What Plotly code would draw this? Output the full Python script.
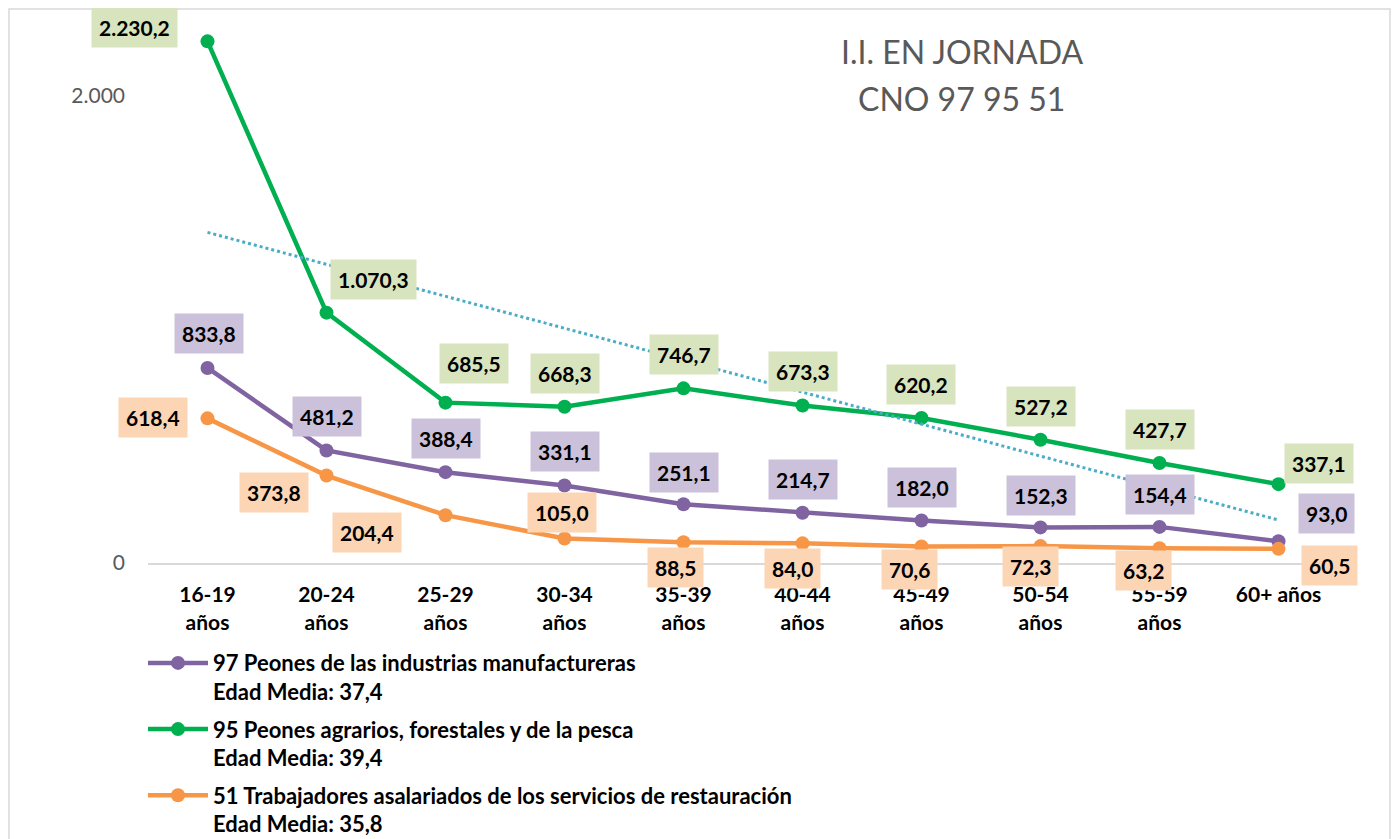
import numpy as np
import plotly.graph_objects as go

categories = ["16-19 años", "20-24 años", "25-29 años", "30-34 años", "35-39 años",
              "40-44 años", "45-49 años", "50-54 años", "55-59 años", "60+ años"]
tick_labels = ["16-19<br>años", "20-24<br>años", "25-29<br>años", "30-34<br>años", "35-39<br>años",
               "40-44<br>años", "45-49<br>años", "50-54<br>años", "55-59<br>años", "60+ años"]
peones_ind = [833.8, 481.2, 388.4, 331.1, 251.1, 214.7, 182.0, 152.3, 154.4, 93.0]
peones_agr = [2230.2, 1070.3, 685.5, 668.3, 746.7, 673.3, 620.2, 527.2, 427.7, 337.1]
restaur = [618.4, 373.8, 204.4, 105.0, 88.5, 84.0, 70.6, 72.3, 63.2, 60.5]

names = ["97 Peones de las industrias manufactureras<br>Edad Media: 37,4",
         "95 Peones agrarios, forestales y de la pesca<br>Edad Media: 39,4",
         "51 Trabajadores asalariados de los servicios de restauración<br>Edad Media: 35,8"]

# label offsets (pixels) for data labels
off_ind = [(1, 34), (0, 34), (0, 34), (0, 34), (0, 32), (0, 33), (0, 33), (0, 32), (0, 32), (48, 28)]
off_agr = [(-73, 14), (47, 33), (28, 39), (0, 33), (0, 34), (0, 34), (-1, 33), (0, 33), (0, 33), (40, 21)]
off_res = [(-55, 1), (-53, -17), (-79, -17), (-3, 26), (-8, -25), (-10, -25), (-12, -23), (-10, -20), (-16, -22), (51, -17)]

col_ind, col_agr, col_res = "#8064A2", "#00B050", "#F79646"
bg_ind, bg_agr, bg_res = "#CCC1DA", "#D7E4BD", "#FCD5B5"
FONT = "Lato, Open Sans, sans-serif"

fig = go.Figure()
for vals, nm, col, grp in [(peones_ind, names[0], col_ind, "a"),
                           (peones_agr, names[1], col_agr, "b"),
                           (restaur, names[2], col_res, "c")]:
    fig.add_trace(go.Scatter(x=categories, y=vals, name=nm, mode="lines+markers",
                             line=dict(color=col, width=4.5), marker=dict(size=14, color=col),
                             legendgroup=grp))

# linear trendline of the agrarian series
xi = np.arange(1, len(peones_agr) + 1)
slope, icpt = np.polyfit(xi, peones_agr, 1)
trend = slope * xi + icpt
fig.add_trace(go.Scatter(x=categories, y=trend, mode="lines", showlegend=False,
                         line=dict(color="#4BACC6", width=3, dash="dot"), hoverinfo="skip"))

lab_font = dict(family=FONT, size=21, color="black", weight="bold")
for vals, offs, bg in [(peones_agr, off_agr, bg_agr), (peones_ind, off_ind, bg_ind), (restaur, off_res, bg_res)]:
    for c, v, (dx, dy) in zip(categories, vals, offs):
        txt = f"{v:,.1f}".replace(",", "X").replace(".", ",").replace("X", ".")
        fig.add_annotation(x=c, y=v, text=txt, showarrow=False, xshift=dx, yshift=dy,
                           font=lab_font, bgcolor=bg, borderpad=7)

for txt, yy in [("I.I. EN JORNADA", 0.950), ("CNO 97 95 51", 0.864)]:
    fig.add_annotation(xref="paper", yref="paper", x=0.684, y=yy, text=txt, showarrow=False,
                       xanchor="center", yanchor="middle",
                       font=dict(family=FONT, size=32, color="#595959"))

# chart border
fig.add_shape(type="rect", xref="paper", yref="paper", x0=-0.1168, x1=1.0437, y0=-0.6, y1=1.0297,
              line=dict(color="#D9D9D9", width=1.5), layer="below")

fig.update_layout(
    width=1383, height=831,
    margin=dict(l=140, r=53, t=17, b=276, autoexpand=False),
    paper_bgcolor="white", plot_bgcolor="white",
    separators=",.",
    showlegend=True,
    legend=dict(x=-0.0042, y=-0.147, xanchor="left", yanchor="top", orientation="v",
                font=dict(family=FONT, size=22, color="black", weight="bold"),
                tracegroupgap=6, valign="top", itemwidth=60, bgcolor="rgba(0,0,0,0)"),
    xaxis=dict(type="category", tickvals=categories, ticktext=tick_labels, range=[-0.5, 9.5],
               showgrid=False, showline=True, linecolor="#D9D9D9", linewidth=2, ticks="",
               tickfont=dict(family=FONT, size=21, color="black", weight="bold"),
               ticklabelstandoff=12, zeroline=False),
    yaxis=dict(range=[0, 2300], tickvals=[0, 2000], tickformat=",d", showgrid=False, zeroline=False,
               showline=False, ticks="", ticklabelstandoff=22,
               tickfont=dict(family=FONT, size=21, color="#595959")),
)

fig.write_html("out.html")
